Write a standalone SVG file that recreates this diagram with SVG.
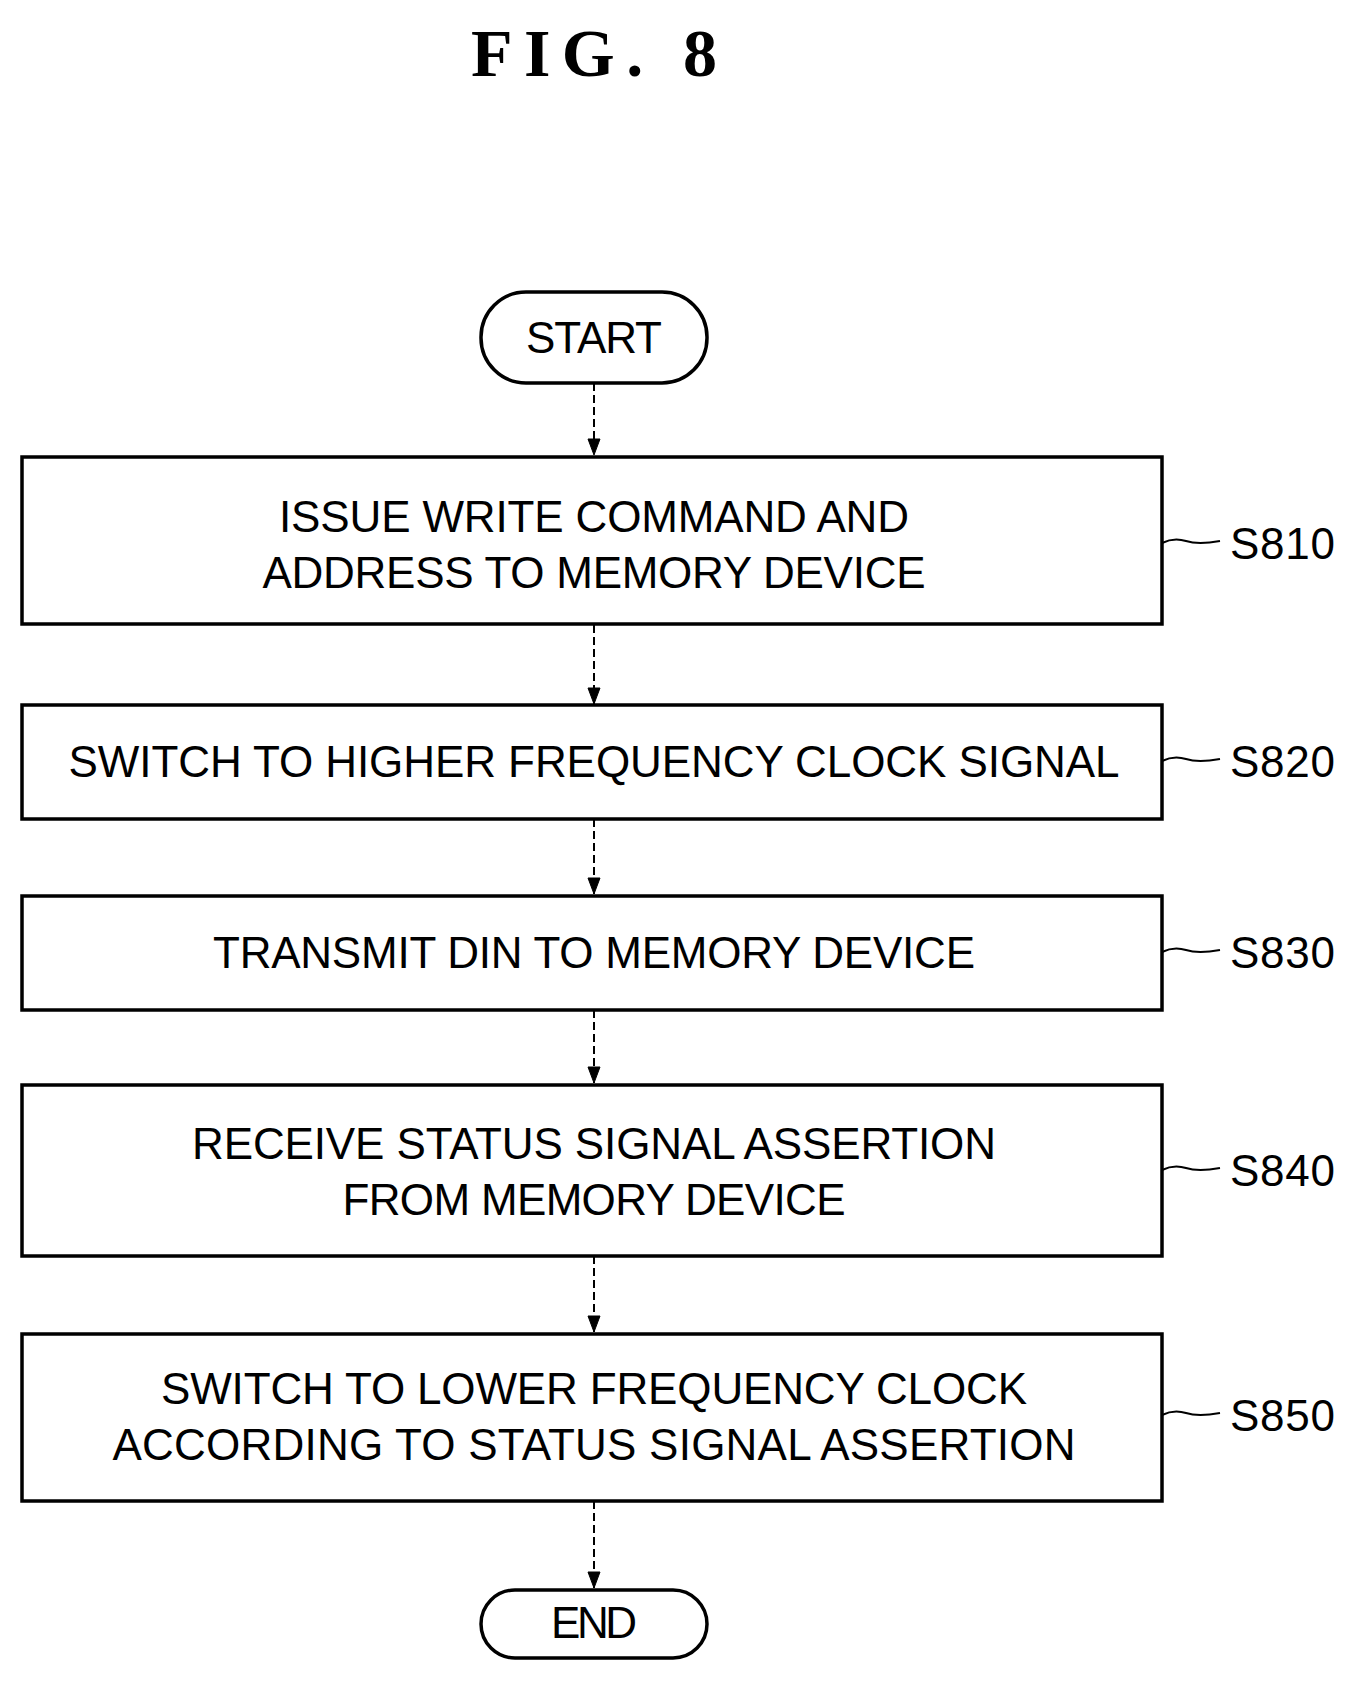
<svg xmlns="http://www.w3.org/2000/svg" width="1348" height="1682" viewBox="0 0 1348 1682">
<style>
.b{fill:#fff;stroke:#000;stroke-width:3.5}
.t{font-family:"Liberation Sans",Arial,sans-serif;font-size:44px;text-anchor:middle;fill:#000}
.l{font-family:"Liberation Sans",Arial,sans-serif;font-size:44px;fill:#000}
.c{fill:none;stroke:#000;stroke-width:2;stroke-dasharray:8 4}
.w{fill:none;stroke:#000;stroke-width:2}
</style>
<defs><marker id="a" markerWidth="18" markerHeight="14" refX="17" refY="7" orient="auto" markerUnits="userSpaceOnUse"><path d="M1,1 L17,7 L1,13 Z" fill="#000" stroke="#000" stroke-width="1"/></marker></defs>
<rect width="1348" height="1682" fill="#fff"/>
<text x="594" y="76" font-family="Liberation Serif,serif" font-size="68" font-weight="bold" text-anchor="middle" textLength="246">FIG.  8</text>
<g id="connectors">
<line class="c" x1="594" y1="383" x2="594" y2="455" marker-end="url(#a)"/>
<line class="c" x1="594" y1="625" x2="594" y2="704" marker-end="url(#a)"/>
<line class="c" x1="594" y1="819" x2="594" y2="894" marker-end="url(#a)"/>
<line class="c" x1="594" y1="1010" x2="594" y2="1083" marker-end="url(#a)"/>
<line class="c" x1="594" y1="1256" x2="594" y2="1332" marker-end="url(#a)"/>
<line class="c" x1="594" y1="1501" x2="594" y2="1588" marker-end="url(#a)"/>
<path class="w" d="M1162,543 q12,-6 24,-2 t34,0"/>
<path class="w" d="M1162,761 q12,-6 24,-2 t34,0"/>
<path class="w" d="M1162,952 q12,-6 24,-2 t34,0"/>
<path class="w" d="M1162,1170 q12,-6 24,-2 t34,0"/>
<path class="w" d="M1162,1415 q12,-6 24,-2 t34,0"/>
</g>
<g id="start"><rect class="b" x="481" y="292" width="226" height="91" rx="45"/><text class="t" x="594" y="353" textLength="136">START</text></g>
<g id="s810"><rect class="b" x="22" y="457" width="1140" height="167"/><text class="t" x="594" y="532" textLength="630">ISSUE WRITE COMMAND AND</text><text class="t" x="594" y="588" textLength="663">ADDRESS TO MEMORY DEVICE</text><text class="l" x="1230" y="559" textLength="105">S810</text></g>
<g id="s820"><rect class="b" x="22" y="705" width="1140" height="114"/><text class="t" x="594" y="777" textLength="1051">SWITCH TO HIGHER FREQUENCY CLOCK SIGNAL</text><text class="l" x="1230" y="777" textLength="105">S820</text></g>
<g id="s830"><rect class="b" x="22" y="896" width="1140" height="114"/><text class="t" x="594" y="968" textLength="762">TRANSMIT DIN TO MEMORY DEVICE</text><text class="l" x="1230" y="968" textLength="105">S830</text></g>
<g id="s840"><rect class="b" x="22" y="1085" width="1140" height="171"/><text class="t" x="594" y="1159" textLength="804">RECEIVE STATUS SIGNAL ASSERTION</text><text class="t" x="594" y="1215" textLength="503">FROM MEMORY DEVICE</text><text class="l" x="1230" y="1186" textLength="105">S840</text></g>
<g id="s850"><rect class="b" x="22" y="1334" width="1140" height="167"/><text class="t" x="594" y="1404" textLength="866">SWITCH TO LOWER FREQUENCY CLOCK</text><text class="t" x="594" y="1460" textLength="963">ACCORDING TO STATUS SIGNAL ASSERTION</text><text class="l" x="1230" y="1431" textLength="105">S850</text></g>
<g id="end"><rect class="b" x="481" y="1590" width="226" height="68" rx="34"/><text class="t" x="594" y="1638" textLength="86">END</text></g>
</svg>
